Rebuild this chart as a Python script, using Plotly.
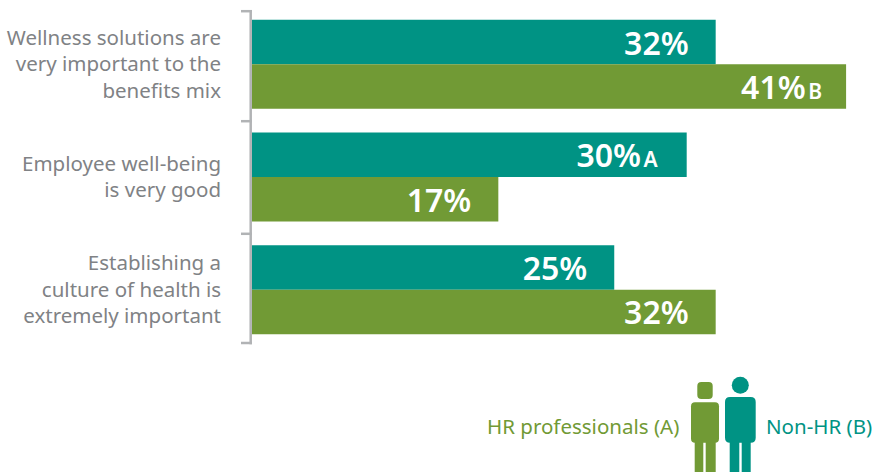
import plotly.graph_objects as go

categories = [
    "Wellness solutions are<br>very important to the<br>benefits mix",
    "Employee well-being<br>is very good",
    "Establishing a<br>culture of health is<br>extremely important",
]
non_hr_values = [32, 30, 25]
hr_values = [41, 17, 32]
non_hr_sig = ["", "A", ""]
hr_sig = ["B", "", ""]
non_hr_name = "Non-HR (B)"
hr_name = "HR professionals (A)"

TEAL = "#009384"
GREEN = "#719A35"
GREY = "#808285"
AXIS = "#B1B3B5"
FONT = "Noto Sans"
W, H = 873, 472
L, T, B = 252, 8, 126


def px(x):
    return (x - L) / (W - L)


def py(y):
    return 1 - (y - T) / (H - T - B)


def pad(width):
    # a no-break space is 0.26em wide in Noto Sans, 8.32px at the 32px label size
    whole = int(width // 8.32)
    rest = width - whole * 8.32
    tail = f'<span style="font-size:{rest / 0.26:.1f}px">\u00a0</span>' if rest > 0.5 else ""
    return "\u00a0" * whole + tail


def labels(values, sig, sig_pad):
    out = []
    for v, s, p in zip(values, sig, sig_pad):
        if s:
            out.append(f'{v}%{pad(2.5)}<span style="font-size:21px">{s}</span>' + pad(p))
        else:
            out.append(f"{v}%" + pad(p))
    return out


fig = go.Figure()
for name, vals, sig, col, gaps in [
    (non_hr_name, non_hr_values, non_hr_sig, TEAL, [24, 26, 24]),
    (hr_name, hr_values, hr_sig, GREEN, [21, 24, 24]),
]:
    fig.add_trace(go.Bar(
        y=categories, x=vals, orientation="h", name=name,
        marker=dict(color=col, line=dict(width=0)),
        text=labels(vals, sig, gaps), textposition="inside", insidetextanchor="end",
        textfont=dict(family=FONT, size=32, color="white", weight=600),
        constraintext="none", textangle=0, cliponaxis=False,
    ))


def box(x0, x1, y0, y1, r, col):
    p = (f"M {px(x0+r)} {py(y0)} L {px(x1-r)} {py(y0)} Q {px(x1)} {py(y0)} {px(x1)} {py(y0+r)} "
         f"L {px(x1)} {py(y1-r)} Q {px(x1)} {py(y1)} {px(x1-r)} {py(y1)} "
         f"L {px(x0+r)} {py(y1)} Q {px(x0)} {py(y1)} {px(x0)} {py(y1-r)} "
         f"L {px(x0)} {py(y0+r)} Q {px(x0)} {py(y0)} {px(x0+r)} {py(y0)} Z")
    return dict(type="path", xref="paper", yref="paper", path=p,
                fillcolor=col, line=dict(width=0), layer="above")


def rule(x0, y0, x1, y1):
    return dict(type="line", xref="paper", yref="paper",
                x0=px(x0), y0=py(y0), x1=px(x1), y1=py(y1),
                line=dict(color=AXIS, width=2.5), layer="above")


shapes = [
    rule(250.7, 10, 250.7, 344.3),
    rule(241, 11.2, 252, 11.2),
    rule(241, 121.2, 252, 121.2),
    rule(241, 233.8, 252, 233.8),
    rule(241, 343, 252, 343),
    box(697.3, 712.7, 382, 399, 4, GREEN),
    box(691, 719, 402.3, 442.7, 4, GREEN),
    box(694.7, 703.3, 442, 472, 0, GREEN),
    box(705.7, 715.7, 442, 472, 0, GREEN),
    box(725, 755.7, 397, 442.7, 5, TEAL),
    box(729.7, 739.3, 442, 472, 0, TEAL),
    box(741.7, 750.7, 442, 472, 0, TEAL),
    dict(type="circle", xref="paper", yref="paper",
         x0=px(731.8), x1=px(748.8), y0=py(376.8), y1=py(393.8),
         fillcolor=TEAL, line=dict(width=0), layer="above"),
]

annotations = [
    dict(text=hr_name, xref="paper", yref="paper", x=px(681), y=py(426),
         xanchor="right", yanchor="middle", showarrow=False,
         font=dict(family=FONT, size=20.5, color=GREEN)),
    dict(text=non_hr_name, xref="paper", yref="paper", x=px(763.5), y=py(426),
         xanchor="left", yanchor="middle", showarrow=False,
         font=dict(family=FONT, size=20.5, color=TEAL)),
]

fig.update_layout(
    width=W, height=H, autosize=False,
    margin=dict(l=L, r=0, t=T, b=B),
    paper_bgcolor="white", plot_bgcolor="white",
    barmode="group", bargap=0.21, bargroupgap=0.0,
    showlegend=False, hovermode=False,
    shapes=shapes, annotations=annotations,
    xaxis=dict(range=[0, (W - L) / 14.49], visible=False),
    yaxis=dict(
        autorange="reversed", showline=False, ticks="",
        ticklabelstandoff=30, showgrid=False, zeroline=False,
        tickfont=dict(family=FONT, size=20.5, color=GREY),
    ),
)
fig.write_html(
    "out.html",
    config=dict(displayModeBar=False),
    post_script="document.body.style.margin='0';document.documentElement.style.overflow='hidden';",
)
